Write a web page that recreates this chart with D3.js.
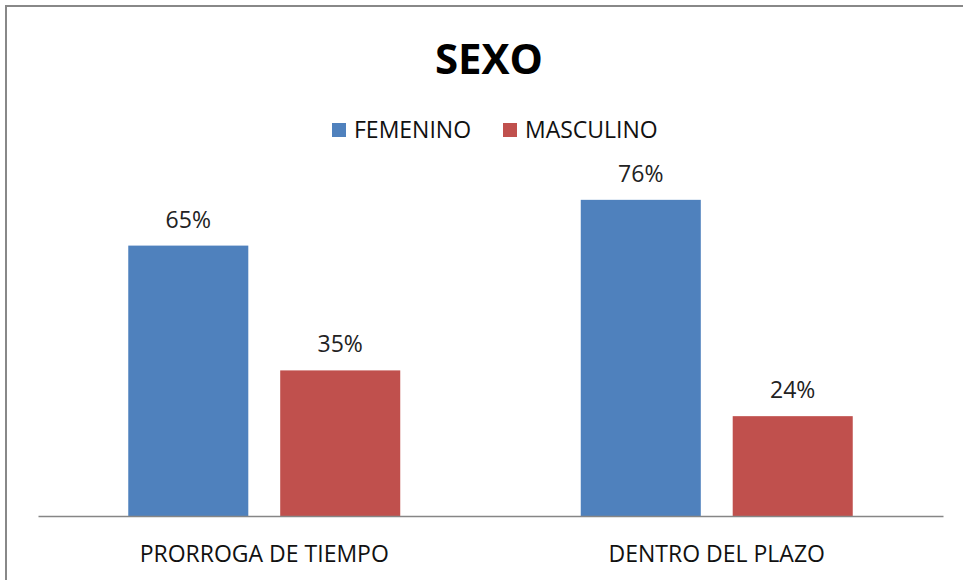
<!DOCTYPE html>
<html>
<head>
<meta charset="utf-8">
<script src="https://cdn.jsdelivr.net/npm/d3@7"></script>
<style>
  html, body { margin: 0; padding: 0; background: #fff; }
  svg { display: block; font-family: "Open Sans", sans-serif; }
</style>
</head>
<body>
<script>
(() => {
    const categories = ["PRORROGA DE TIEMPO", "DENTRO DEL PLAZO"]
    const seriesNames = ["FEMENINO", "MASCULINO"]
    const femenino = [0.65, 0.76]
    const masculino = [0.35, 0.24]
    const colors = ["#4f81bd", "#c0504d"]

    const width = 963, height = 580
    const svg = d3.select("body")
        .append("svg")
        .attr("width", width)
        .attr("height", height)

    // chart frame (right and bottom edges are cut off in the original)
    svg.append("rect")
        .attr("x", 6).attr("y", 6)
        .attr("width", width + 20).attr("height", height + 20)
        .style("fill", "#fff")
        .style("stroke", "#888")
        .style("stroke-width", 2)

    const baseY = 516
    const x0 = d3.scaleBand().domain(categories).range([38, 943]).padding(0)
    const x1 = d3.scaleBand().domain(seriesNames).range([0, x0.bandwidth()])
        .paddingInner(0.21).paddingOuter(0.594)
    const y = d3.scaleLinear().domain([0, 1]).range([baseY, 100])

    const rows = categories.map((c, i) => ({
        cat: c,
        vals: [femenino[i], masculino[i]].map((v, j) => ({ name: seriesNames[j], v, j }))
    }))

    const groups = svg.append("g")
        .selectAll("g")
        .data(rows)
        .join("g")
        .attr("transform", (d) => `translate(${x0(d.cat)},0)`)

    groups.selectAll("rect")
        .data((d) => d.vals)
        .join("rect")
        .attr("x", (d) => x1(d.name))
        .attr("y", (d) => y(d.v))
        .attr("width", x1.bandwidth())
        .attr("height", (d) => baseY - y(d.v))
        .style("fill", (d) => colors[d.j])

    groups.selectAll("text")
        .data((d) => d.vals)
        .join("text")
        .attr("x", (d) => x1(d.name) + x1.bandwidth() / 2)
        .attr("y", (d) => y(d.v) - 18)
        .attr("text-anchor", "middle")
        .style("font-size", "23px")
        .style("fill", "#222")
        .text((d) => d3.format(".0%")(d.v))

    // category axis
    const axis = svg.append("g")
        .attr("transform", `translate(0,${baseY})`)
        .call(d3.axisBottom(x0).tickSize(0).tickPadding(30))
    axis.select(".domain").attr("stroke", "#868686").attr("stroke-width", 1.5)
    axis.selectAll("text")
        .style("font-family", "Open Sans, sans-serif")
        .style("font-size", "23px")
        .style("fill", "#111")

    // title
    svg.append("text")
        .attr("x", 489).attr("y", 74)
        .attr("text-anchor", "middle")
        .style("font-size", "42px")
        .style("font-weight", "bold")
        .text("SEXO")

    // legend
    const legendX = [332, 503]
    const legend = svg.append("g")
        .selectAll("g")
        .data(seriesNames)
        .join("g")
        .attr("transform", (_, i) => `translate(${legendX[i]},123)`)
    legend.append("rect")
        .attr("width", 14).attr("height", 14)
        .style("fill", (_, i) => colors[i])
    legend.append("text")
        .attr("x", 22).attr("y", 15)
        .style("font-size", "23px")
        .style("fill", "#111")
        .text((d) => d)
})()
</script>
</body>
</html>
